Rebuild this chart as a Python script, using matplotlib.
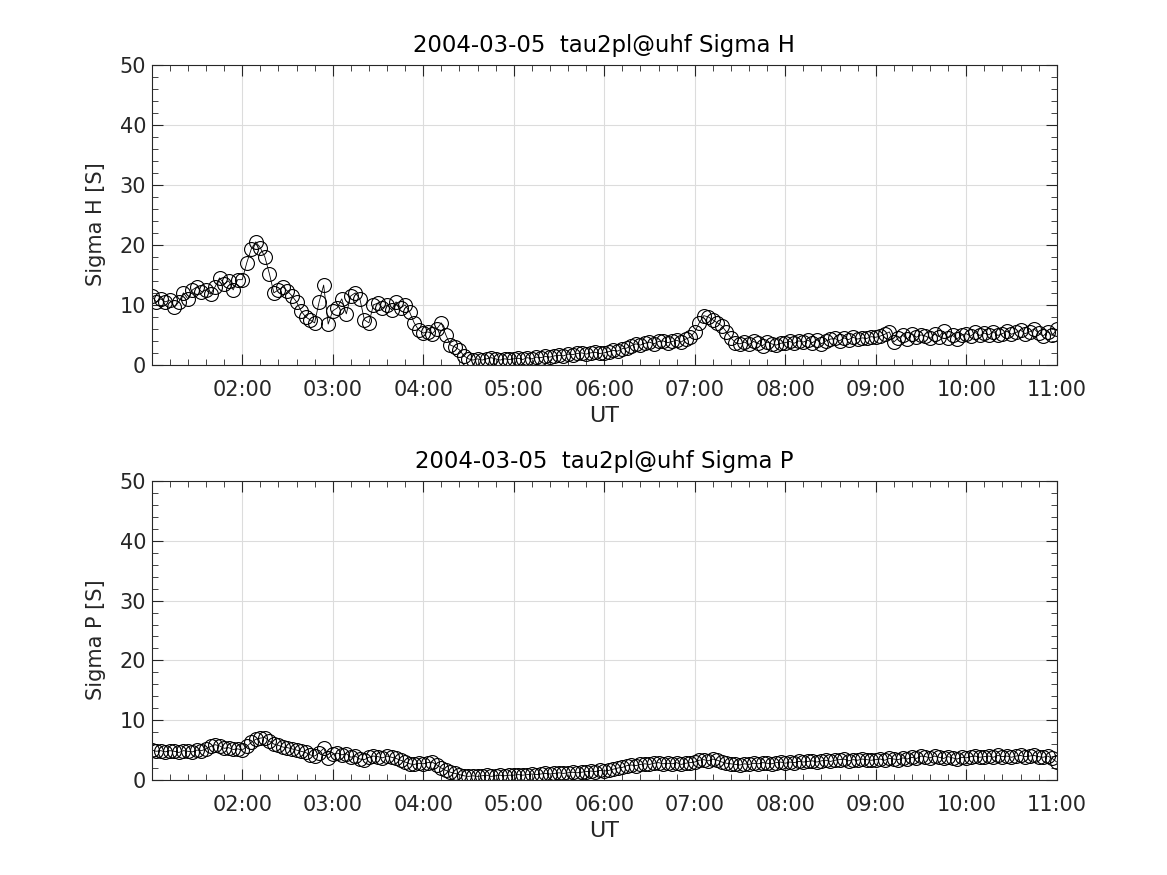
import numpy as np
import pandas as pd
import matplotlib
matplotlib.use("Agg")
import matplotlib.pyplot as plt
import matplotlib.dates as mdates
from matplotlib.ticker import MultipleLocator

# Sigma H, one value every 3 minutes, 01:00 - 11:00 UT
sigma_h = [
    11.5, 10.5, 11.0, 10.5, 10.8, 9.6, 10.5, 12.0, 11.0, 12.5, 13.0, 12.2, 12.5, 11.8, 13.0, 14.5, 13.5, 14.0, 12.5, 14.2,
    14.2, 17.0, 19.3, 20.5, 19.5, 18.0, 15.2, 12.0, 12.5, 13.0, 12.3, 11.5, 10.5, 9.0, 8.0, 7.5, 7.0, 10.5, 13.3, 6.8,
    9.0, 9.5, 11.0, 8.5, 11.5, 12.0, 11.0, 7.5, 7.0, 10.0, 10.3, 9.5, 10.0, 9.2, 10.5, 9.5, 10.0, 8.8, 7.0, 5.8,
    5.3, 5.5, 5.2, 6.0, 7.0, 5.0, 3.3, 3.0, 2.5, 1.5, 1.0, 0.8, 1.0, 0.8, 1.0, 1.2, 1.0, 0.8, 1.0, 0.9,
    1.0, 1.1, 0.9, 1.2, 1.0, 1.3, 1.2, 1.4, 1.3, 1.5, 1.6, 1.5, 1.8, 1.7, 1.9, 2.0, 1.8, 2.0, 2.1, 1.9,
    2.0, 2.2, 2.4, 2.3, 2.7, 2.8, 3.2, 3.5, 3.3, 3.6, 3.8, 3.5, 3.9, 4.0, 3.7, 3.9, 4.1, 3.8, 4.3, 4.6,
    5.5, 7.0, 8.2, 8.0, 7.5, 7.0, 6.5, 5.5, 4.5, 3.7, 3.5, 3.8, 3.4, 3.9, 3.6, 3.2, 3.8, 3.5, 3.3, 3.6,
    3.7, 3.9, 3.6, 4.0, 3.8, 4.1, 3.7, 4.2, 3.5, 4.0, 4.3, 4.4, 4.0, 4.5, 4.2, 4.6, 4.3, 4.5, 4.4, 4.7,
    4.6, 4.8, 5.1, 5.5, 3.8, 4.5, 4.9, 4.3, 5.2, 4.6, 5.0, 4.8, 4.4, 5.1, 4.7, 5.6, 4.5, 4.9, 4.3, 5.0,
    5.2, 4.8, 5.4, 4.9, 5.3, 5.0, 5.5, 4.9, 5.2, 5.6, 5.1, 5.4, 5.8, 5.2, 5.5, 6.0, 5.3, 4.8, 5.5, 4.9, 5.9,
]

# Sigma P
sigma_p = [
    5.0, 4.8, 4.9, 4.7, 4.9, 4.8, 4.6, 4.9, 4.8, 4.7, 5.0, 4.9, 5.2, 5.6, 5.9, 5.7, 5.3, 5.4, 5.1, 5.2,
    5.0, 5.6, 6.3, 6.8, 7.0, 7.1, 6.5, 6.0, 5.8, 5.5, 5.4, 5.2, 5.0, 4.8, 4.6, 4.2, 4.0, 4.5, 5.3, 3.6,
    4.3, 4.5, 4.2, 4.4, 3.8, 4.0, 3.5, 3.4, 3.8, 4.0, 3.9, 3.7, 4.0, 3.8, 3.6, 3.3, 3.0, 2.7, 2.6, 2.8,
    2.7, 2.9, 3.0, 2.5, 2.0, 1.6, 1.3, 1.1, 0.9, 0.7, 0.6, 0.7, 0.6, 0.7, 0.8, 0.6, 0.7, 0.8, 0.7, 0.8,
    0.8, 0.9, 0.8, 0.9, 1.0, 0.9, 1.0, 1.1, 1.0, 1.1, 1.2, 1.1, 1.2, 1.3, 1.2, 1.3, 1.4, 1.5, 1.4, 1.6,
    1.5, 1.6, 1.8, 2.0, 2.1, 2.4, 2.5, 2.4, 2.6, 2.7, 2.6, 2.8, 2.9, 2.7, 2.8, 2.7, 2.9, 2.6, 2.8, 2.9,
    3.0, 3.3, 3.4, 3.2, 3.5, 3.3, 3.0, 2.8, 2.7, 2.6, 2.5, 2.7, 2.6, 2.8, 2.7, 2.9, 2.8, 2.7, 2.9, 3.0,
    2.8, 3.0, 2.9, 3.1, 3.0, 3.1, 3.2, 3.0, 3.2, 3.3, 3.1, 3.3, 3.4, 3.5, 3.2, 3.4, 3.3, 3.5, 3.4, 3.3,
    3.4, 3.5, 3.3, 3.6, 3.5, 3.4, 3.7, 3.5, 3.8, 3.6, 4.0, 3.9, 3.7, 4.0, 3.8, 3.6, 3.9, 3.7, 3.5, 3.8,
    3.7, 3.9, 4.0, 3.8, 3.9, 4.0, 3.8, 4.1, 3.9, 4.0, 3.8, 4.0, 4.1, 3.9, 4.0, 4.1, 3.9, 3.8, 4.0, 3.6, 3.0,
]

tempo = pd.date_range("2004-03-05 01:00", periods=len(sigma_h), freq="3min")

titulos = ["2004-03-05  tau2pl@uhf Sigma H", "2004-03-05  tau2pl@uhf Sigma P"]
eixoy = ["Sigma H [S]", "Sigma P [S]"]
series = [sigma_h, sigma_p]

cor_texto = "#262626"
plt.rcParams["font.family"] = "DejaVu Sans"

fig = plt.figure(figsize=(11.67, 8.75), dpi=100)
posicoes = [[0.130, 0.583, 0.7755, 0.3429], [0.130, 0.1086, 0.7755, 0.3417]]

for k in range(2):
    ax = fig.add_axes(posicoes[k])
    ax.plot(tempo, series[k], color="k", linewidth=0.6, marker="o", markersize=10,
            markerfacecolor="none", markeredgecolor="k", markeredgewidth=0.8)
    ax.set_xlim(pd.Timestamp("2004-03-05 01:00"), pd.Timestamp("2004-03-05 11:00"))
    ax.set_ylim(0, 50)
    ax.xaxis.set_major_locator(mdates.HourLocator(byhour=range(2, 12)))
    ax.xaxis.set_minor_locator(mdates.MinuteLocator(byminute=[0, 12, 24, 36, 48]))
    ax.xaxis.set_major_formatter(mdates.DateFormatter("%H:%M"))
    ax.yaxis.set_major_locator(MultipleLocator(10))
    ax.yaxis.set_minor_locator(MultipleLocator(2))
    ax.grid(True, which="major", color="#dcdcdc", linewidth=0.8)
    ax.set_axisbelow(True)
    ax.tick_params(which="both", direction="in", top=True, right=True,
                   colors=cor_texto, labelsize=15)
    ax.tick_params(axis="x", which="major", pad=11)
    ax.tick_params(axis="y", which="major", pad=4)
    ax.tick_params(which="major", length=8, width=0.8)
    ax.tick_params(which="minor", length=4, width=0.6)
    for lado in ax.spines.values():
        lado.set_color(cor_texto)
        lado.set_linewidth(0.8)
    ax.set_title(titulos[k], fontsize=16.4, color="k", pad=9)
    ax.set_xlabel("UT", fontsize=16, color=cor_texto, labelpad=4)
    ax.set_ylabel(eixoy[k], fontsize=15, color=cor_texto)
    ax.yaxis.set_label_coords(-0.05, 0.47)

plt.savefig("out.png", dpi=100)
